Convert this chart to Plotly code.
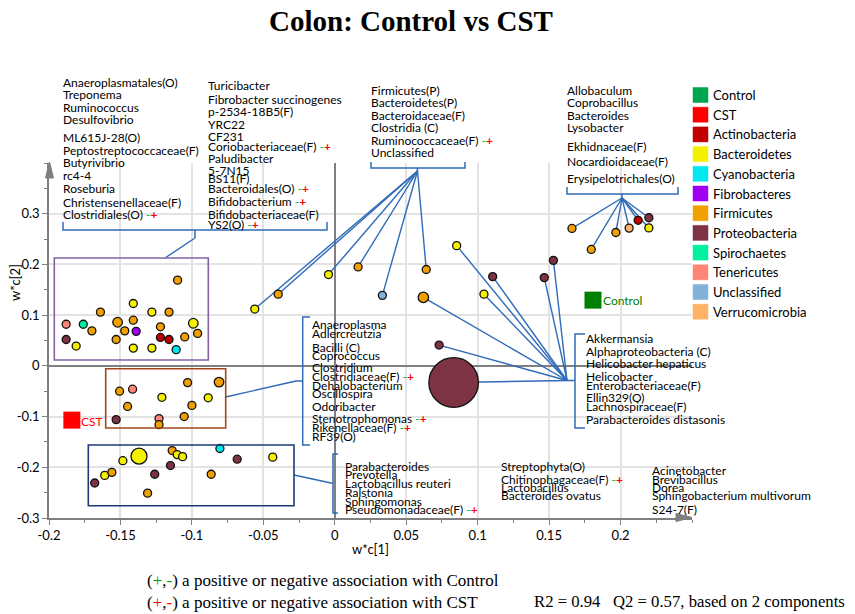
import plotly.graph_objects as go

# ---------------- data ----------------
phyla = ["Actinobacteria", "Bacteroidetes", "Cyanobacteria", "Fibrobacteres", "Firmicutes",
         "Proteobacteria", "Spirochaetes", "Tenericutes", "Unclassified", "Verrucomicrobia"]
groups = ["Control", "CST"]

x_ticks = [-0.2, -0.15, -0.1, -0.05, 0, 0.05, 0.1, 0.15, 0.2]
x_tick_text = ["-0.2", "-0.15", "-0.1", "-0.05", "0", "0.05", "0.1", "0.15", "0.2"]
y_ticks = [-0.3, -0.2, -0.1, 0, 0.1, 0.2, 0.3]
y_tick_text = ["-0.3", "-0.2", "-0.1", "0", "0.1", "0.2", "0.3"]

# group positions (w*c)
group_x = [0.1807, -0.184]
group_y = [0.1296, -0.107]

# cluster 1 (upper left)
c1_x = [-0.188, -0.176, -0.170, -0.164, -0.188, -0.181, -0.152, -0.153, -0.147, -0.141, -0.141, -0.139,
        -0.141, -0.128, -0.122, -0.128, -0.122, -0.116, -0.116, -0.111, -0.105, -0.099, -0.096, -0.110]
c1_y = [0.082, 0.082, 0.069, 0.106, 0.052, 0.039, 0.086, 0.052, 0.069, 0.123, 0.090, 0.068,
        0.035, 0.106, 0.077, 0.035, 0.056, 0.106, 0.052, 0.032, 0.057, 0.084, 0.064, 0.169]
c1_p = ["Tenericutes", "Spirochaetes", "Firmicutes", "Firmicutes", "Proteobacteria", "Bacteroidetes",
        "Firmicutes", "Firmicutes", "Firmicutes", "Bacteroidetes", "Firmicutes", "Fibrobacteres",
        "Bacteroidetes", "Bacteroidetes", "Firmicutes", "Bacteroidetes", "Actinobacteria", "Firmicutes",
        "Actinobacteria", "Cyanobacteria", "Firmicutes", "Bacteroidetes", "Firmicutes", "Firmicutes"]
c1_v = [1, 1, 1, 1, 1, 1, 1.2, 1, 1, 1, 1, 1, 1, 1, 1, 1, 1, 1, 1, 1, 1, 1.2, 1, 1]

# cluster 2 (middle left)
c2_x = [-0.1506, -0.1415, -0.145, -0.153, -0.121, -0.123, -0.123, -0.103, -0.100, -0.1054, -0.0886, -0.081]
c2_y = [-0.050, -0.046, -0.080, -0.106, -0.062, -0.104, -0.116, -0.033, -0.078, -0.100, -0.063, -0.032]
c2_p = ["Firmicutes", "Tenericutes", "Firmicutes", "Proteobacteria", "Bacteroidetes", "Tenericutes",
        "Firmicutes", "Firmicutes", "Firmicutes", "Firmicutes", "Bacteroidetes", "Firmicutes"]
c2_v = [1, 1, 1, 1, 1, 1, 1, 1, 1, 1, 1, 1.2]

# cluster 3 (lower left)
c3_x = [-0.168, -0.161, -0.156, -0.1483, -0.137, -0.131, -0.126, -0.115, -0.1138, -0.1103, -0.1065,
        -0.0865, -0.0804, -0.0683, -0.0434]
c3_y = [-0.231, -0.216, -0.210, -0.187, -0.178, -0.251, -0.2137, -0.1966, -0.167, -0.175, -0.179,
        -0.2137, -0.163, -0.184, -0.180]
c3_p = ["Proteobacteria", "Bacteroidetes", "Firmicutes", "Bacteroidetes", "Bacteroidetes", "Firmicutes",
        "Proteobacteria", "Proteobacteria", "Firmicutes", "Bacteroidetes", "Bacteroidetes", "Firmicutes",
        "Cyanobacteria", "Proteobacteria", "Bacteroidetes"]
c3_v = [1, 1, 1, 1, 2.0, 1, 1, 1, 1, 1, 1, 1, 1, 1, 1]

# cluster 4 (linked to Firmicutes(P) ... block)
c4_x = [-0.056, -0.0396, -0.0044, 0.0163, 0.0333, 0.064]
c4_y = [0.112, 0.1414, 0.180, 0.195, 0.139, 0.190]
c4_p = ["Bacteroidetes", "Firmicutes", "Bacteroidetes", "Firmicutes", "Unclassified", "Firmicutes"]
c4_v = [1, 1, 1, 1, 1, 1]

# cluster 5 (linked to Allobaculum ... block)
c5_x = [0.166, 0.1795, 0.1967, 0.206, 0.2123, 0.2198, 0.2198]
c5_y = [0.271, 0.2296, 0.263, 0.2716, 0.287, 0.272, 0.292]
c5_p = ["Firmicutes", "Firmicutes", "Firmicutes", "Verrucomicrobia", "Actinobacteria", "Bacteroidetes",
        "Proteobacteria"]
c5_v = [1, 1, 1, 1, 1, 1, 1]

# cluster 6 (linked to Akkermansia ... block)
c6_x = [0.062, 0.0853, 0.1105, 0.1044, 0.1466, 0.153, 0.073, 0.0832]
c6_y = [0.135, 0.237, 0.176, 0.1414, 0.174, 0.208, 0.041, -0.0328]
c6_p = ["Firmicutes", "Bacteroidetes", "Proteobacteria", "Bacteroidetes", "Proteobacteria",
        "Proteobacteria", "Proteobacteria", "Proteobacteria"]
c6_v = [1.3, 1, 1, 1, 1, 1, 1, 6.2]

# label blocks ("-+" marks an association)
lab_tl1 = ["Anaeroplasmatales(O)", "Treponema", "Ruminococcus", "Desulfovibrio", "ML615J-28(O)",
           "Peptostreptococcaceae(F)", "Butyrivibrio", "rc4-4", "Roseburia", "Christensenellaceae(F)",
           "Clostridiales(O) -+"]
lab_tl2 = ["Turicibacter", "Fibrobacter succinogenes", "p-2534-18B5(F)", "YRC22", "CF231",
           "Coriobacteriaceae(F) -+", "Paludibacter", "5-7N15", "BS11(F)", "Bacteroidales(O) -+",
           "Bifidobacterium -+", "Bifidobacteriaceae(F)", "YS2(O) -+"]
lab_tm = ["Firmicutes(P)", "Bacteroidetes(P)", "Bacteroidaceae(F)", "Clostridia (C)",
          "Ruminococcaceae(F) -+", "Unclassified"]
lab_tr = ["Allobaculum", "Coprobacillus", "Bacteroides", "Lysobacter", "Ekhidnaceae(F)",
          "Nocardioidaceae(F)", "Erysipelotrichales(O)"]
lab_ml = ["Anaeroplasma", "Adlercreutzia", "Bacilli (C)", "Coprococcus", "Clostridium",
          "Clostridiaceae(F) -+", "Dehalobacterium", "Oscillospira", "Odoribacter",
          "Stenotrophomonas -+", "Rikenellaceae(F) -+", "RF39(O)"]
lab_mr = ["Akkermansia", "Alphaproteobacteria (C)", "Helicobacter hepaticus", "Helicobacter",
          "Enterobacteriaceae(F)", "Ellin329(O)", "Lachnospiraceae(F)", "Parabacteroides distasonis"]
lab_ba = ["Parabacteroides", "Prevotella", "Lactobacillus reuteri", "Ralstonia", "Sphingomonas",
          "Pseudomonadaceae(F) -+"]
lab_bb = ["Streptophyta(O)", "Chitinophagaceae(F) -+", "Lactobacillus", "Bacteroides ovatus"]
lab_bc = ["Acinetobacter", "Brevibacillus", "Dorea", "Sphingobacterium multivorum", "S24-7(F)"]

# ---------------- styling / layout ----------------
colors = {
    "Control": "#00A550", "CST": "#FF0000",
    "Actinobacteria": "#C00000", "Bacteroidetes": "#F5F000", "Cyanobacteria": "#00E8EE",
    "Fibrobacteres": "#A000F0", "Firmicutes": "#F0A000", "Proteobacteria": "#7D3343",
    "Spirochaetes": "#00F0A0", "Tenericutes": "#FF8575", "Unclassified": "#80B2DA",
    "Verrucomicrobia": "#FFB366",
}
BLUE = "#2F6BB8"
FONT = "Lato"
# page has an 8px body margin: figure spans page pixels 8..855 x 8..614
OFF = 8
W, H = 855 - OFF, 614 - OFF
P_L, P_R, P_T, P_B = 49, 692, 163, 518          # plot area in page pixels
ML, MR, MT, MB = P_L - OFF, W - (P_R - OFF), P_T - OFF, H - (P_B - OFF)
XR = [-0.2, 0.25]
YR = [-0.3, 0.4]
PW = P_R - P_L
PH = P_B - P_T


def dx(px):
    return XR[0] + (px - P_L) / PW * (XR[1] - XR[0])


def dy(py):
    return YR[0] + (P_B - py) / PH * (YR[1] - YR[0])


def fx(px):
    return (px - P_L) / PW


def fy(py):
    return (P_B - py) / PH


def fmt(label):
    if label.endswith(" -+"):
        return (label[:-3] + ' <span style="color:#00B050">-</span>'
                '<span style="color:#FF0000"><b>+</b></span>')
    return label


fig = go.Figure()

# leader lines
lx, ly = [], []


def link(x0, y0, x1, y1):
    lx.extend([x0, x1, None])
    ly.extend([y0, y1, None])


for xv, yv in zip(c4_x, c4_y):
    link(dx(417.5), dy(171), xv, yv)
for xv, yv in zip(c5_x, c5_y):
    link(dx(622), dy(198), xv, yv)
for xv, yv in zip(c6_x, c6_y):
    link(dx(567), dy(380.5), xv, yv)
link(dx(195), dy(238), dx(165), dy(258))
link(dx(225.7), dy(397), dx(296), dy(381))
link(dx(294), dy(475), dx(331), dy(483))

fig.add_trace(go.Scatter(x=lx, y=ly, mode="lines", line=dict(color=BLUE, width=1.4),
                         hoverinfo="skip", showlegend=False))

BASE = 8
for cx, cy, cp, cv in [(c1_x, c1_y, c1_p, c1_v), (c2_x, c2_y, c2_p, c2_v), (c3_x, c3_y, c3_p, c3_v),
                       (c4_x, c4_y, c4_p, c4_v), (c5_x, c5_y, c5_p, c5_v), (c6_x, c6_y, c6_p, c6_v)]:
    fig.add_trace(go.Scatter(
        x=cx, y=cy, mode="markers", showlegend=False, text=cp,
        marker=dict(color=[colors[p] for p in cp], size=[BASE * v for v in cv],
                    line=dict(color="#111111", width=1.3), opacity=1)))

# group markers
fig.add_trace(go.Scatter(x=group_x, y=group_y, mode="markers", showlegend=False,
                         marker=dict(symbol="square", size=17, color=["#008000", "#FF0000"],
                                     line=dict(width=0))))

shapes = []
# boxes
for (x0, x1, y0, y1, c) in [(54.3, 208.3, 360, 258, "#8064A2"),
                            (105.7, 225.7, 428, 368.7, "#A0481C"),
                            (88.3, 294, 505.7, 445, "#1F3A78")]:
    shapes.append(dict(type="rect", xref="x", yref="y", x0=dx(x0), x1=dx(x1), y0=dy(y0), y1=dy(y1),
                       line=dict(color=c, width=1.6), fillcolor="rgba(0,0,0,0)", layer="above"))


def ppath(pts):
    return "M " + " L ".join(f"{fx(a):.5f},{fy(b):.5f}" for a, b in pts)


brackets = [
    [(63, 222), (63, 230), (327, 230), (327, 222)],
    [(195, 230), (195, 238)],
    [(371, 162), (371, 168), (465, 168), (465, 162)],
    [(417.5, 168), (417.5, 171)],
    [(567, 187), (567, 194), (678, 194), (678, 187)],
    [(622, 194), (622, 198)],
    [(310, 317), (302.7, 317), (302.7, 445), (310, 445)],
    [(302.7, 381), (296, 381)],
    [(585, 334), (575, 334), (575, 428), (585, 428)],
    [(575, 380.5), (567, 380.5)],
    [(338, 454), (333, 454), (333, 513), (338, 513)],
    [(333, 483), (331, 483)],
]
for b in brackets:
    shapes.append(dict(type="path", xref="paper", yref="paper", path=ppath(b),
                       line=dict(color=BLUE, width=1.5)))

# axis arrowheads
shapes.append(dict(type="path", xref="paper", yref="paper",
                   path=ppath([(45.5, 178), (49.5, 162), (53.5, 178)]) + " Z",
                   fillcolor="#7F7F7F", line=dict(color="#7F7F7F", width=1)))
shapes.append(dict(type="path", xref="paper", yref="paper",
                   path=ppath([(676, 513.5), (692, 517.5), (676, 521.5)]) + " Z",
                   fillcolor="#7F7F7F", line=dict(color="#7F7F7F", width=1)))

# legend squares
leg_items = groups + phyla
for i, name in enumerate(leg_items):
    yc = 95 + 19.7 * i
    shapes.append(dict(type="rect", xref="paper", yref="paper", x0=fx(693), x1=fx(708),
                       y0=fy(yc + 7.5), y1=fy(yc - 7.5), fillcolor=colors[name],
                       line=dict(color=colors[name], width=0.5)))

annotations = []


def text(px, py, s, size=12, color="black", family=FONT, anchor="left", **kw):
    annotations.append(dict(xref="paper", yref="paper", x=fx(px), y=fy(py), text=s,
                            showarrow=False, xanchor=anchor, yanchor="middle",
                            font=dict(size=size, color=color, family=family),
                            borderpad=0, borderwidth=0, **kw))


blocks = [
    (lab_tl1, 63, [82.7, 94.3, 107.3, 120, 137.3, 150, 162.3, 176, 188.3, 202.3, 214.3]),
    (lab_tl2, 208, [85.7, 99.3, 112, 124.3, 136.7, 146.3, 158.7, 170.7, 178, 188.3, 201.7, 214.5, 224]),
    (lab_tm, 371, [90.7, 102.7, 115.3, 128, 140, 152.7]),
    (lab_tr, 567, [90.7, 102.7, 115.7, 128, 146, 161.7, 178.7]),
    (lab_ml, 311.5, [324.3, 333.3, 347.3, 355.3, 367.7, 376.3, 385, 393.3, 406.7, 418.3, 427.7, 436]),
    (lab_mr, 586, [338.3, 351.7, 363.3, 376, 385, 397.7, 406.7, 419]),
    (lab_ba, 345.4, [466.7, 474.3, 483.3, 492.3, 501, 509.3]),
    (lab_bb, 501.3, [466, 479, 487.7, 495.7]),
    (lab_bc, 652, [470.7, 479, 487.7, 495.7, 509.3]),
]
for labels, x0, ys in blocks:
    for lab, yv in zip(labels, ys):
        text(x0, yv, fmt(lab))

for i, name in enumerate(leg_items):
    text(713, 95 + 19.7 * i, name, size=13)

text(602.5, 300, "Control", color="#008000")
text(81, 421, "CST", color="#FF0000")

# titles
text(411, 21, "<b>Colon: Control vs CST</b>", size=29, family="Liberation Serif", anchor="center")
text(370.5, 549, "w*c[1]", size=13, anchor="center")
annotations.append(dict(xref="paper", yref="paper", x=fx(15), y=fy(283), text="w*c[2]", textangle=-90,
                        showarrow=False, xanchor="center", yanchor="middle",
                        font=dict(size=13, color="black", family=FONT)))

G = "#00A000"
RD = "#FF0000"
text(147, 580, f'(<span style="color:{G}">+</span>,<span style="color:{G}">-</span>) '
               'a positive or negative association with Control', size=17, family="Liberation Serif")
text(147, 602, f'(<span style="color:{RD}">+</span>,<span style="color:{RD}">-</span>) '
               'a positive or negative association with CST', size=17, family="Liberation Serif")
text(534, 601, "R2 = 0.94&nbsp;&nbsp;&nbsp;Q2 = 0.57, based on 2 components", size=16.7,
     family="Liberation Serif")

axis_common = dict(showline=True, linecolor="#7F7F7F", linewidth=1.5, ticks="outside", ticklen=5,
                   tickcolor="#7F7F7F", tickwidth=1.2, showgrid=True, gridcolor="#E3E3E3", gridwidth=1.6,
                   zeroline=True, zerolinecolor="#808080", zerolinewidth=1.6,
                   tickfont=dict(family=FONT, size=13, color="black"), tickmode="array")

fig.update_layout(
    width=W, height=H, margin=dict(l=ML, r=MR, t=MT, b=MB, autoexpand=False),
    paper_bgcolor="white", plot_bgcolor="white", showlegend=False,
    xaxis=dict(range=XR, tickvals=x_ticks, ticktext=x_tick_text,
               minor=dict(tickmode="linear", tick0=0, dtick=0.025, ticks="outside", ticklen=3,
                          tickcolor="#7F7F7F", showgrid=False), **axis_common),
    yaxis=dict(range=YR, tickvals=y_ticks, ticktext=y_tick_text,
               minor=dict(tickmode="linear", tick0=0, dtick=0.05, ticks="outside", ticklen=3,
                          tickcolor="#7F7F7F", showgrid=False), **axis_common),
    shapes=shapes, annotations=annotations,
)

fig.write_html("out.html")
